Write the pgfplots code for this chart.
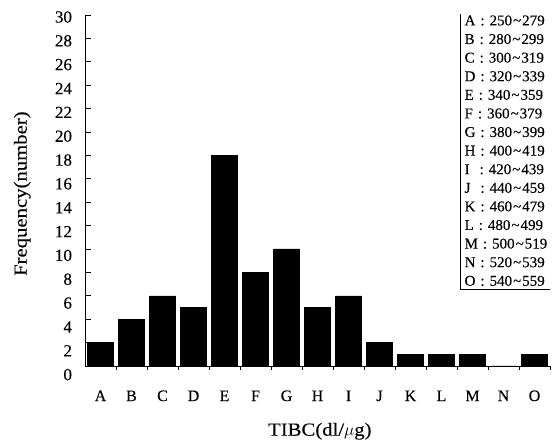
\documentclass[border=0pt]{standalone}
\usepackage{fontspec}
\setmainfont{Liberation Serif}
\newfontfamily\thk{Liberation Serif}[FakeBold=0.2]
\usepackage{pgfplots}
\pgfplotsset{compat=1.18}
\begin{document}
\begin{tikzpicture}
\begin{axis}[
  scale only axis,
  width=465pt, height=351pt,
  anchor=south west, at={(0pt,0pt)},
  xmin=-0.5, xmax=14.5, ymin=0, ymax=30,
  axis x line*=bottom, axis y line*=left,
  axis line style={line width=0.9pt},
  ytick={0,2,...,30},
  xtick={0,...,14},
  xticklabels={A,B,C,D,E,F,G,H,I,J,K,L,M,N,O},
  minor xtick={0.5,1.5,...,14.5},
  major x tick style={draw=none},
  minor tick length=4pt,
  major tick length=6pt,
  tick align=inside,
  tick style={black, line width=0.7pt},
  /pgf/number format/assume math mode=true,
  yticklabel={\pgfmathsetmacro\ysh{-2-0.22*(30-\tick)}\raisebox{\ysh pt}[\height][\depth]{\pgfmathprintnumber{\tick}}},
  yticklabel style={font=\thk\fontsize{17}{19}\selectfont, xshift=-9.5pt},
  xticklabel style={font=\thk\fontsize{16}{18}\selectfont, yshift=-14.5pt, text height=11pt},
  xlabel={TIBC(dl/$\mu$g)},
  ylabel={Frequency(number)},
  label style={font=\thk\fontsize{18.5}{20}\selectfont\addfontfeatures{FakeStretch=1.12}},
  xlabel style={at={(axis description cs:0.505,-0.186)}, anchor=center},
  ylabel style={at={(axis description cs:-0.135,0.491)}, anchor=center, rotate=0},
  ybar, bar width=26pt,
]
\addplot[fill=black, draw=black] coordinates {
  (0,2) (1,4) (2,6) (3,5) (4,18) (5,8) (6,10) (7,5) (8,6) (9,2) (10,1) (11,1) (12,1) (13,0) (14,1)
};
\node[draw=black, line width=0.8pt, anchor=north east, align=left,
      font=\thk\fontsize{15}{18.6}\selectfont, inner xsep=4pt, inner ysep=3pt,
      text width=83pt]
  at (axis description cs:1,1) [xshift=2pt, yshift=3pt] {%
A : 250\hspace{1pt}\textasciitilde\hspace{1pt}279\\
B : 280\hspace{1pt}\textasciitilde\hspace{1pt}299\\
C : 300\hspace{1pt}\textasciitilde\hspace{1pt}319\\
D : 320\hspace{1pt}\textasciitilde\hspace{1pt}339\\
E : 340\hspace{1pt}\textasciitilde\hspace{1pt}359\\
F : 360\hspace{1pt}\textasciitilde\hspace{1pt}379\\
G : 380\hspace{1pt}\textasciitilde\hspace{1pt}399\\
H : 400\hspace{1pt}\textasciitilde\hspace{1pt}419\\
I \ : 420\hspace{1pt}\textasciitilde\hspace{1pt}439\\
J \ : 440\hspace{1pt}\textasciitilde\hspace{1pt}459\\
K : 460\hspace{1pt}\textasciitilde\hspace{1pt}479\\
L : 480\hspace{1pt}\textasciitilde\hspace{1pt}499\\
M : 500\hspace{1pt}\textasciitilde\hspace{1pt}519\\
N : 520\hspace{1pt}\textasciitilde\hspace{1pt}539\\
O : 540\hspace{1pt}\textasciitilde\hspace{1pt}559};
\end{axis}
\pgfresetboundingbox
\path[use as bounding box] (-85pt,-77pt) rectangle (468pt,366pt);
\end{tikzpicture}
\end{document}
